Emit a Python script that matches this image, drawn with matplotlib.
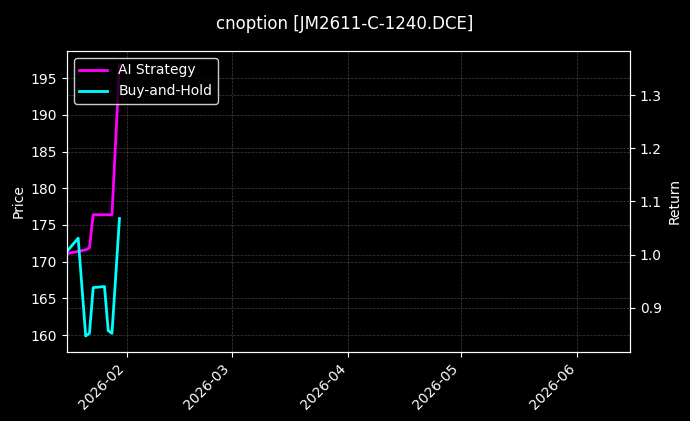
import pandas as pd
import matplotlib.pyplot as plt
import matplotlib.dates as mdates

# values
dates = pd.to_datetime([
    "2026-01-16", "2026-01-19", "2026-01-21", "2026-01-22", "2026-01-23",
    "2026-01-26", "2026-01-27", "2026-01-28", "2026-01-30",
])
ai_strategy = [1.002, 1.006, 1.009, 1.013, 1.075, 1.075, 1.075, 1.075, 1.357]
buy_and_hold = [1.006, 1.031, 0.847, 0.852, 0.938, 0.940, 0.857, 0.852, 1.068]

price_range = (157.7, 198.7)
return_range = (0.817, 1.383)
x_start = pd.Timestamp("2026-01-16")
x_end = pd.Timestamp("2026-06-15")

plt.style.use("dark_background")
fig = plt.figure(figsize=(6.9, 4.21), dpi=100)
ax = fig.add_axes([0.097, 0.164, 0.816, 0.715])
ax2 = ax.twinx()

ax.set_ylim(*price_range)
ax.set_ylabel("Price")
ax.grid(True, linestyle="--", linewidth=0.5, color="gray", alpha=0.5)

ax2.plot(dates, ai_strategy, color="#ff00ff", linewidth=2, label="AI Strategy")
ax2.plot(dates, buy_and_hold, color="#00ffff", linewidth=2, label="Buy-and-Hold")
ax2.set_ylim(*return_range)
ax2.set_ylabel("Return")
ax2.grid(True, linestyle="--", linewidth=0.5, color="gray", alpha=0.5)

ax.set_xlim(x_start, x_end)
ax.xaxis.set_major_locator(mdates.MonthLocator())
ax.xaxis.set_major_formatter(mdates.DateFormatter("%Y-%m"))
plt.setp(ax.get_xticklabels(), rotation=45, ha="right")

ax2.legend(loc="upper left", facecolor="black", edgecolor="white", framealpha=0.8)
fig.suptitle("cnoption [JM2611-C-1240.DCE]", fontsize=12, y=0.965)

plt.savefig("out.png", dpi=100)
